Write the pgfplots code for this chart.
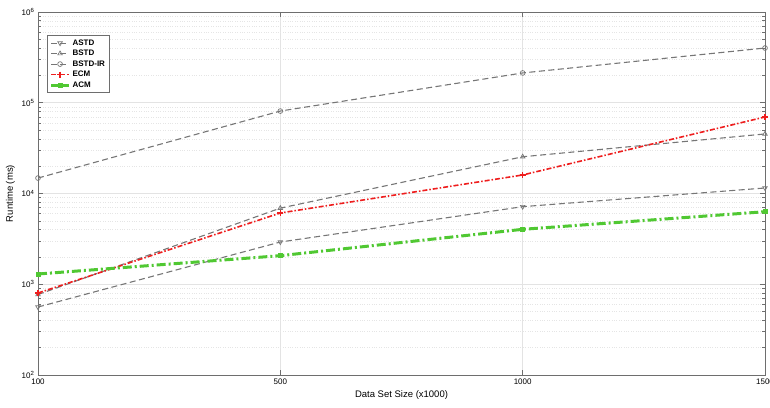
\documentclass[border=0pt]{standalone}
\usepackage{pgfplots}
\pgfplotsset{compat=1.18}
\usepackage{fontspec}
\setmainfont{Liberation Sans}
\usetikzlibrary{calc}
\definecolor{gline}{RGB}{118,118,118}
\definecolor{ecm}{RGB}{238,30,30}
\definecolor{acm}{RGB}{80,200,50}
\definecolor{axc}{RGB}{110,110,110}
\begin{document}
\begin{tikzpicture}
\begin{axis}[
  name=ax,
  scale only axis, width=727pt, height=363pt,
  ymode=log, ymin=100, ymax=1000000,
  xmin=0, xmax=3,
  xtick={0,1,2,3}, xticklabels={100,500,1000,1500},
  ytick={100,1000,10000,100000,1000000},
  yticklabels={10\textsuperscript{2},10\textsuperscript{3},10\textsuperscript{4},10\textsuperscript{5},10\textsuperscript{6}},
  tick align=inside,
  major tick length=5pt, minor tick length=3pt,
  grid=both,
  major grid style={gray!22, line width=0.6pt},
  minor grid style={gray!20, dotted, line width=0.5pt},
  axis line style={axc, line width=0.9pt},
  tick style={axc, line width=0.6pt},
  ticklabel style={font=\fontsize{8}{9}\selectfont},
  xlabel={Data Set Size (x1000)},
  ylabel={Runtime (ms)},
  label style={font=\fontsize{9.5}{11}\selectfont},
  legend style={at={(0.0124,0.9366)}, anchor=north west, draw=axc, line width=0.7pt,
    font=\fontsize{8}{10}\selectfont\bfseries, inner sep=2.2pt, row sep=-0.6pt,
    legend cell align=left},
  legend image code/.code={\draw[#1] (0pt,0pt) -- (9pt,0pt) plot coordinates {(9pt,0pt)} -- (18pt,0pt);},
]
\addplot[gline, dash pattern=on 6pt off 3.5pt, line width=1.1pt, mark=triangle, mark size=2.6pt, mark options={solid, rotate=180, fill=white, line width=0.7pt}]
  coordinates {(0,561) (1,2920) (2,7160) (3,11500)};
\addlegendentry{ASTD}
\addplot[gline, dash pattern=on 6pt off 3.5pt, line width=1.1pt, mark=triangle, mark size=2.6pt, mark options={solid, fill=white, line width=0.7pt}]
  coordinates {(0,770) (1,6900) (2,25400) (3,45300)};
\addlegendentry{BSTD}
\addplot[gline, dash pattern=on 6pt off 3.5pt, line width=1.1pt, mark=o, mark size=2.4pt, mark options={solid, fill=white, line width=0.7pt}]
  coordinates {(0,14800) (1,81000) (2,213000) (3,401000)};
\addlegendentry{BSTD-IR}
\addplot[ecm, dash pattern=on 5pt off 2pt on 1.5pt off 2pt, line width=1.6pt, mark=+, mark size=3pt, mark options={solid, line width=1.3pt}]
  coordinates {(0,800) (1,6100) (2,16000) (3,69700)};
\addlegendentry{ECM}
\addplot[acm, dash pattern=on 9pt off 3pt on 2pt off 3pt, line width=3pt, mark=square*, mark size=2pt, mark options={solid, line width=0.5pt}]
  coordinates {(0,1297) (1,2065) (2,4030) (3,6300)};
\addlegendentry{ACM}
\end{axis}
\pgfresetboundingbox
\useasboundingbox ($(ax.south west)+(-38pt,-32pt)$) rectangle ($(ax.north east)+(5pt,12pt)$);
\end{tikzpicture}
\end{document}
